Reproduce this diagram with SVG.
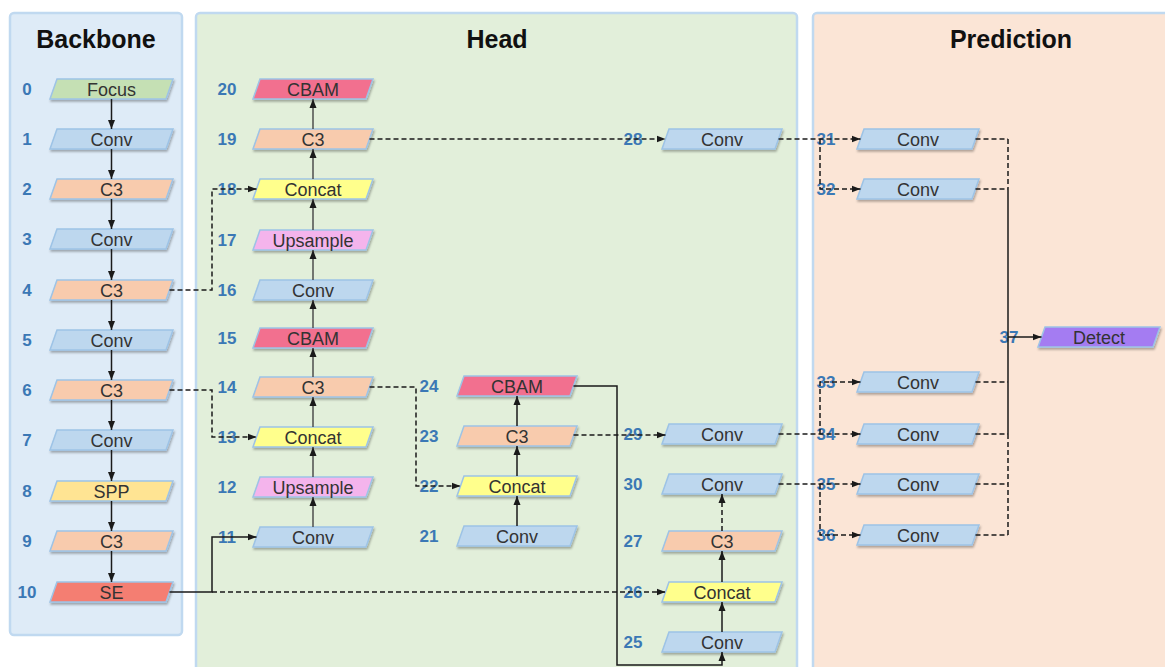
<svg xmlns="http://www.w3.org/2000/svg" width="1165" height="667" viewBox="0 0 1165 667">
<style>
.pb{fill:#deebf7;stroke:#c0d9f0;stroke-width:2.5}
.ph{fill:#e2efda;stroke:#c0d9f0;stroke-width:2.5}
.pp{fill:#fbe5d6;stroke:#c0d9f0;stroke-width:2.5}
.node{stroke:#9dc3e6;stroke-width:1.5;filter:url(#sh)}
.conv{fill:#bdd7ee}.c3{fill:#f8cbad}.focus{fill:#c5e0b4}.concat{fill:#ffff8c}.spp{fill:#ffe493}.up{fill:#f4b4ec}.cbam{fill:#f2708f}.se{fill:#f47e72}.detect{fill:#a47cf2}
.t{font-family:"Liberation Sans",Arial,sans-serif;font-size:18px;fill:#333;text-anchor:middle}
.n{font-family:"Liberation Sans",Arial,sans-serif;font-size:17px;font-weight:bold;fill:#3b78b5;text-anchor:middle}
.title{font-family:"Liberation Sans",Arial,sans-serif;font-size:25px;font-weight:bold;fill:#111;text-anchor:middle}
.s{fill:none;stroke:#1a1a1a;stroke-width:1.5}
.g{fill:none;stroke:#444;stroke-width:1.4}
.d{fill:none;stroke:#1a1a1a;stroke-width:1.5;stroke-dasharray:5 3}
</style>
<defs>
<filter id="sh" x="-10%" y="-30%" width="120%" height="180%"><feDropShadow dx="1" dy="2" stdDeviation="1.2" flood-color="#000" flood-opacity="0.3"/></filter>
<marker id="a" markerUnits="userSpaceOnUse" markerWidth="9" markerHeight="8" refX="9" refY="4" orient="auto"><path d="M0,0.5 L9,4 L0,7.5 z" fill="#1a1a1a"/></marker>
</defs>
<rect width="1165" height="667" fill="#fff"/>
<g id="panels">
<rect class="pb" x="10" y="13" width="172" height="622" rx="4"/>
<rect class="ph" x="196" y="13" width="601" height="670" rx="4"/>
<rect class="pp" x="813" y="13" width="370" height="670" rx="4"/>
<text class="title" x="96" y="48">Backbone</text>
<text class="title" x="497" y="48">Head</text>
<text class="title" x="1011" y="48">Prediction</text>
</g>
<g id="n0"><polygon class="node focus" points="57,79 173,79 166,99 50,99"/><text class="t" x="111.5" y="95.5">Focus</text><text class="n" x="27" y="95">0</text></g>
<g id="n1"><polygon class="node conv" points="57,129 173,129 166,149 50,149"/><text class="t" x="111.5" y="145.5">Conv</text><text class="n" x="27" y="145">1</text></g>
<g id="n2"><polygon class="node c3" points="57,179 173,179 166,199 50,199"/><text class="t" x="111.5" y="195.5">C3</text><text class="n" x="27" y="195">2</text></g>
<g id="n3"><polygon class="node conv" points="57,229 173,229 166,249 50,249"/><text class="t" x="111.5" y="245.5">Conv</text><text class="n" x="27" y="245">3</text></g>
<g id="n4"><polygon class="node c3" points="57,280 173,280 166,300 50,300"/><text class="t" x="111.5" y="296.5">C3</text><text class="n" x="27" y="296">4</text></g>
<g id="n5"><polygon class="node conv" points="57,330 173,330 166,350 50,350"/><text class="t" x="111.5" y="346.5">Conv</text><text class="n" x="27" y="346">5</text></g>
<g id="n6"><polygon class="node c3" points="57,380 173,380 166,400 50,400"/><text class="t" x="111.5" y="396.5">C3</text><text class="n" x="27" y="396">6</text></g>
<g id="n7"><polygon class="node conv" points="57,430 173,430 166,450 50,450"/><text class="t" x="111.5" y="446.5">Conv</text><text class="n" x="27" y="446">7</text></g>
<g id="n8"><polygon class="node spp" points="57,481 173,481 166,501 50,501"/><text class="t" x="111.5" y="497.5">SPP</text><text class="n" x="27" y="497">8</text></g>
<g id="n9"><polygon class="node c3" points="57,531 173,531 166,551 50,551"/><text class="t" x="111.5" y="547.5">C3</text><text class="n" x="27" y="547">9</text></g>
<g id="n10"><polygon class="node se" points="57,582 173,582 166,602 50,602"/><text class="t" x="111.5" y="598.5">SE</text><text class="n" x="27" y="598">10</text></g>
<g id="n11"><polygon class="node conv" points="260,527 373,527 366,547 253,547"/><text class="t" x="313" y="543.5">Conv</text><text class="n" x="227" y="543">11</text></g>
<g id="n12"><polygon class="node up" points="260,477 373,477 366,497 253,497"/><text class="t" x="313" y="493.5">Upsample</text><text class="n" x="227" y="493">12</text></g>
<g id="n13"><polygon class="node concat" points="260,427 373,427 366,447 253,447"/><text class="t" x="313" y="443.5">Concat</text><text class="n" x="227" y="443">13</text></g>
<g id="n14"><polygon class="node c3" points="260,377 373,377 366,397 253,397"/><text class="t" x="313" y="393.5">C3</text><text class="n" x="227" y="393">14</text></g>
<g id="n15"><polygon class="node cbam" points="260,328 373,328 366,348 253,348"/><text class="t" x="313" y="344.5">CBAM</text><text class="n" x="227" y="344">15</text></g>
<g id="n16"><polygon class="node conv" points="260,280 373,280 366,300 253,300"/><text class="t" x="313" y="296.5">Conv</text><text class="n" x="227" y="296">16</text></g>
<g id="n17"><polygon class="node up" points="260,230 373,230 366,250 253,250"/><text class="t" x="313" y="246.5">Upsample</text><text class="n" x="227" y="246">17</text></g>
<g id="n18"><polygon class="node concat" points="260,179 373,179 366,199 253,199"/><text class="t" x="313" y="195.5">Concat</text><text class="n" x="227" y="195">18</text></g>
<g id="n19"><polygon class="node c3" points="260,129 373,129 366,149 253,149"/><text class="t" x="313" y="145.5">C3</text><text class="n" x="227" y="145">19</text></g>
<g id="n20"><polygon class="node cbam" points="260,79 373,79 366,99 253,99"/><text class="t" x="313" y="95.5">CBAM</text><text class="n" x="227" y="95">20</text></g>
<g id="n21"><polygon class="node conv" points="464,526 577,526 570,546 457,546"/><text class="t" x="517" y="542.5">Conv</text><text class="n" x="429" y="542">21</text></g>
<g id="n22"><polygon class="node concat" points="464,476 577,476 570,496 457,496"/><text class="t" x="517" y="492.5">Concat</text><text class="n" x="429" y="492">22</text></g>
<g id="n23"><polygon class="node c3" points="464,426 577,426 570,446 457,446"/><text class="t" x="517" y="442.5">C3</text><text class="n" x="429" y="442">23</text></g>
<g id="n24"><polygon class="node cbam" points="464,376 577,376 570,396 457,396"/><text class="t" x="517" y="392.5">CBAM</text><text class="n" x="429" y="392">24</text></g>
<g id="n25"><polygon class="node conv" points="669,632 782,632 775,652 662,652"/><text class="t" x="722" y="648.5">Conv</text><text class="n" x="633" y="648">25</text></g>
<g id="n26"><polygon class="node concat" points="669,582 782,582 775,602 662,602"/><text class="t" x="722" y="598.5">Concat</text><text class="n" x="633" y="598">26</text></g>
<g id="n27"><polygon class="node c3" points="669,531 782,531 775,551 662,551"/><text class="t" x="722" y="547.5">C3</text><text class="n" x="633" y="547">27</text></g>
<g id="n28"><polygon class="node conv" points="669,129 782,129 775,149 662,149"/><text class="t" x="722" y="145.5">Conv</text><text class="n" x="633" y="145">28</text></g>
<g id="n29"><polygon class="node conv" points="669,424 782,424 775,444 662,444"/><text class="t" x="722" y="440.5">Conv</text><text class="n" x="633" y="440">29</text></g>
<g id="n30"><polygon class="node conv" points="669,474 782,474 775,494 662,494"/><text class="t" x="722" y="490.5">Conv</text><text class="n" x="633" y="490">30</text></g>
<g id="n31"><polygon class="node conv" points="864,129 979,129 972,149 857,149"/><text class="t" x="918" y="145.5">Conv</text><text class="n" x="826" y="145">31</text></g>
<g id="n32"><polygon class="node conv" points="864,179 979,179 972,199 857,199"/><text class="t" x="918" y="195.5">Conv</text><text class="n" x="826" y="195">32</text></g>
<g id="n33"><polygon class="node conv" points="864,372 979,372 972,392 857,392"/><text class="t" x="918" y="388.5">Conv</text><text class="n" x="826" y="388">33</text></g>
<g id="n34"><polygon class="node conv" points="864,424 979,424 972,444 857,444"/><text class="t" x="918" y="440.5">Conv</text><text class="n" x="826" y="440">34</text></g>
<g id="n35"><polygon class="node conv" points="864,474 979,474 972,494 857,494"/><text class="t" x="918" y="490.5">Conv</text><text class="n" x="826" y="490">35</text></g>
<g id="n36"><polygon class="node conv" points="864,525 979,525 972,545 857,545"/><text class="t" x="918" y="541.5">Conv</text><text class="n" x="826" y="541">36</text></g>
<g id="n37"><polygon class="node detect" points="1045,327 1160,327 1153,347 1038,347"/><text class="t" x="1099" y="343.5">Detect</text><text class="n" x="1009" y="343">37</text></g>
<g id="connectors">
<path class="s" marker-end="url(#a)" d="M111.5,99 V129"/>
<path class="s" marker-end="url(#a)" d="M111.5,149 V179"/>
<path class="s" marker-end="url(#a)" d="M111.5,199 V229"/>
<path class="s" marker-end="url(#a)" d="M111.5,249 V280"/>
<path class="s" marker-end="url(#a)" d="M111.5,300 V330"/>
<path class="s" marker-end="url(#a)" d="M111.5,350 V380"/>
<path class="s" marker-end="url(#a)" d="M111.5,400 V430"/>
<path class="s" marker-end="url(#a)" d="M111.5,450 V481"/>
<path class="s" marker-end="url(#a)" d="M111.5,501 V531"/>
<path class="s" marker-end="url(#a)" d="M111.5,551 V582"/>
<path class="g" marker-end="url(#a)" d="M313,527 V497"/>
<path class="g" marker-end="url(#a)" d="M313,477 V447"/>
<path class="g" marker-end="url(#a)" d="M313,427 V397"/>
<path class="g" marker-end="url(#a)" d="M313,377 V348"/>
<path class="g" marker-end="url(#a)" d="M313,328 V300"/>
<path class="g" marker-end="url(#a)" d="M313,280 V250"/>
<path class="g" marker-end="url(#a)" d="M313,230 V199"/>
<path class="g" marker-end="url(#a)" d="M313,179 V149"/>
<path class="g" marker-end="url(#a)" d="M313,129 V99"/>
<path class="s" marker-end="url(#a)" d="M517,526 V496"/>
<path class="s" marker-end="url(#a)" d="M517,476 V446"/>
<path class="s" marker-end="url(#a)" d="M517,426 V396"/>
<path class="s" marker-end="url(#a)" d="M722,632 V602"/>
<path class="s" marker-end="url(#a)" d="M722,582 V551"/>
<path class="d" marker-end="url(#a)" d="M722,531 V494"/>
<path class="d" marker-end="url(#a)" d="M169.5,290 H212 V189 H256.5"/>
<path class="d" marker-end="url(#a)" d="M169.5,390 H212 V437 H256.5"/>
<path class="s" marker-end="url(#a)" d="M169.5,592 H212 V537 H256.5"/>
<path class="d" marker-end="url(#a)" d="M212,592 H665.5"/>
<path class="d" marker-end="url(#a)" d="M369.5,139 H665.5"/>
<path class="d" marker-end="url(#a)" d="M369.5,387 H416 V486 H460.5"/>
<path class="d" marker-end="url(#a)" d="M573.5,435 H665.5"/>
<path class="s" marker-end="url(#a)" d="M573.5,386 H617 V665 H722 V652"/>
<path class="d" marker-end="url(#a)" d="M778.5,139 H860.5"/>
<path class="d" marker-end="url(#a)" d="M820,139 V189 H860.5"/>
<path class="d" marker-end="url(#a)" d="M778.5,434 H860.5"/>
<path class="d" marker-end="url(#a)" d="M820,434 V382 H860.5"/>
<path class="d" marker-end="url(#a)" d="M778.5,484 H860.5"/>
<path class="d" marker-end="url(#a)" d="M820,484 V535 H860.5"/>
<path class="d" d="M975.5,139 H1008 M975.5,189 H1008 M975.5,382 H1008 M975.5,434 H1008 M975.5,484 H1008 M975.5,535 H1008"/>
<path class="d" d="M1008,139 V189 M1008,434 V535"/>
<path class="s" d="M1008,189 V434"/>
<path class="s" marker-end="url(#a)" d="M1008,337 H1041.5"/>
</g>
</svg>
